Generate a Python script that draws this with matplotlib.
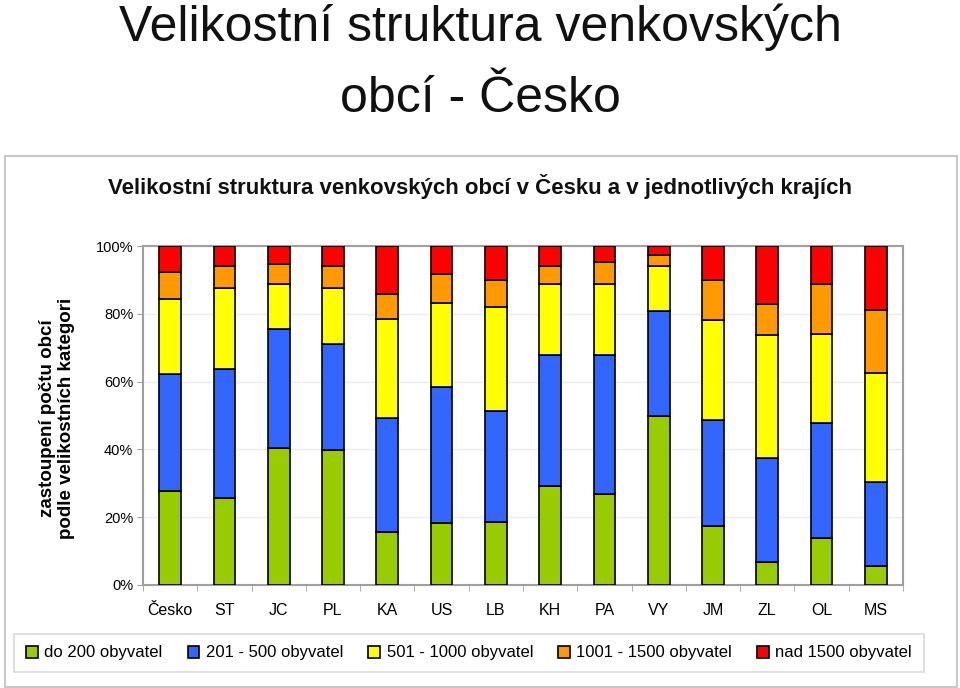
import numpy as np
import matplotlib.pyplot as plt
from matplotlib.patches import Rectangle

plt.rcParams['font.family'] = ['Liberation Sans', 'DejaVu Sans']

# kraje
kraje = ["Česko", "ST", "JC", "PL", "KA", "US", "LB", "KH", "PA", "VY", "JM", "ZL", "OL", "MS"]

# podíly obcí podle velikosti (%)
do_200 = [27.6, 25.6, 40.4, 39.7, 15.6, 18.4, 18.7, 29.3, 26.7, 50.0, 17.5, 6.9, 13.8, 5.6]
od_201_500 = [34.5, 38.2, 35.0, 31.5, 33.7, 39.9, 32.5, 38.5, 41.1, 30.9, 31.2, 30.6, 33.9, 24.9]
od_501_1000 = [22.4, 23.7, 13.3, 16.3, 29.3, 25.0, 30.9, 20.9, 20.9, 13.2, 29.6, 36.2, 26.4, 32.0]
od_1001_1500 = [7.9, 6.6, 5.9, 6.6, 7.2, 8.4, 7.9, 5.4, 6.7, 3.2, 11.6, 9.2, 14.7, 18.6]
nad_1500 = [7.6, 5.9, 5.4, 5.9, 14.2, 8.3, 10.0, 5.9, 4.6, 2.7, 10.1, 17.1, 11.2, 18.9]

kategorie = ["do 200 obyvatel", "201 - 500 obyvatel", "501 - 1000 obyvatel",
             "1001 - 1500 obyvatel", "nad 1500 obyvatel"]
barvy = ["#99cc00", "#3366ff", "#ffff00", "#ff9900", "#ff0000"]
serie = [do_200, od_201_500, od_501_1000, od_1001_1500, nad_1500]

fig = plt.figure(figsize=(9.6, 6.88), dpi=100)

# velky nadpis
fig.text(0.5, 1 - 41 / 688, "Velikostní struktura venkovských", ha="center", va="baseline",
         fontsize=36, color="#111111")
fig.text(0.5, 1 - 112 / 688, "obcí - Česko", ha="center", va="baseline",
         fontsize=36, color="#111111")

# ramecek grafu
fig.patches.append(Rectangle((5 / 960, 0.002), 952 / 960, (688 - 157) / 688,
                             transform=fig.transFigure, fill=False,
                             edgecolor="#c8c8c8", linewidth=1.5))

fig.text(0.5, 1 - 187 / 688, "Velikostní struktura venkovských obcí v Česku a v jednotlivých krajích",
         ha="center", va="center", fontsize=16, fontweight="bold", color="#111111")

ax = fig.add_axes([143 / 960, 103 / 688, 760 / 960, 339 / 688])

x = np.arange(len(kraje))
bottom = np.zeros(len(kraje))
for vals, barva, nazev in zip(serie, barvy, kategorie):
    soucet = np.array(vals)
    ax.bar(x, soucet, width=0.4, bottom=bottom, color=barva, edgecolor="black",
           linewidth=1.2, label=nazev, zorder=3)
    bottom += soucet

ax.set_xlim(-0.5, len(kraje) - 0.5)
ax.set_ylim(0, 100)
ax.set_yticks(np.arange(0, 101, 20))
ax.set_yticklabels([f"{v}%" for v in range(0, 101, 20)], fontsize=10.5)
ax.set_xticks(x)
ax.set_xticklabels(kraje, fontsize=11.5)
ax.set_xticks(np.arange(-0.5, len(kraje), 1), minor=True)
ax.tick_params(axis="x", which="major", length=0, pad=13)
ax.tick_params(axis="x", which="minor", length=4, color="#a0a0a0")
ax.tick_params(axis="y", length=4, color="#a0a0a0", pad=3)
ax.grid(axis="y", color="#ececec", linewidth=1, zorder=0)
for s in ax.spines.values():
    s.set_color("#a0a0a0")
    s.set_linewidth(1.5)

fig.text(57 / 960, 1 - 418 / 688, "zastoupení počtu obcí\npodle velikostních kategori",
         rotation=90, ha="center", va="center", fontsize=13.5, fontweight="bold",
         linespacing=1.2)

leg = fig.legend(loc="center", bbox_to_anchor=(469 / 960, 35 / 688), ncol=5,
                 fontsize=12, frameon=True, fancybox=False, handlelength=0.7,
                 handleheight=0.7, handletextpad=0.4, columnspacing=1.5,
                 borderpad=0.7)
leg.get_frame().set_edgecolor("#d0d0d0")
leg.get_frame().set_linewidth(1.2)

fig.savefig("out.png", dpi=100)
